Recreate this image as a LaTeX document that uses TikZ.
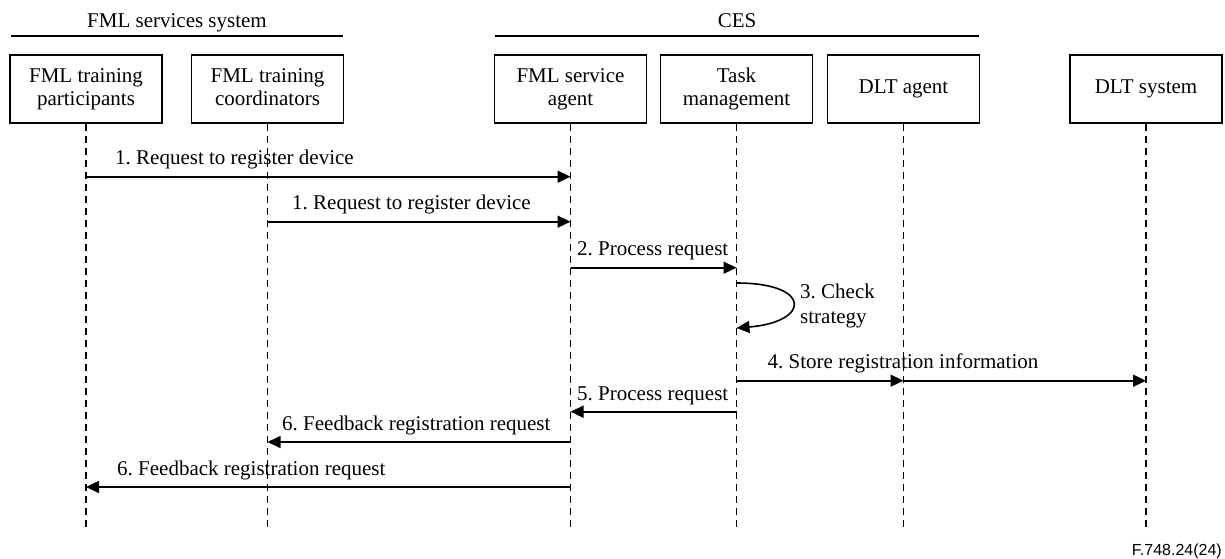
\documentclass[tikz,border=0pt]{standalone}
\usepackage{fontspec}
\setmainfont{Liberation Serif}
\newfontfamily\figsans{Liberation Sans}
\usetikzlibrary{arrows.meta}
\frenchspacing
\begin{document}
\begin{tikzpicture}[x=1pt,y=-1pt,
  font=\fontsize{21}{23}\selectfont,
  lifebox/.style={draw, line width=1.5pt, minimum width=152pt, minimum height=68pt,
                  align=center, inner sep=0pt},
  lifeline/.style={line width=1.4pt, dash pattern=on 7pt off 5pt},
  msg/.style={line width=1.6pt, -{Triangle[length=13pt,width=12pt]}},
  lbl/.style={anchor=base west, inner sep=0pt},
  grp/.style={line width=1.9pt}]
\useasboundingbox (0,0) rectangle (1225,558);

% group headings
\node[anchor=base, inner sep=0pt] (gfml) at (177,27) {FML services system};
\draw[grp] (11,36) -- (343,36);
\node[anchor=base, inner sep=0pt] (gces) at (737,27) {CES};
\draw[grp] (495,36) -- (979,36);

% participants
\node[lifebox] (p1) at (86,89)    {FML training\strut\\participants\strut};
\node[lifebox] (p2) at (267.5,89) {FML training\strut\\coordinators\strut};
\node[lifebox] (p3) at (570.5,89) {FML service\strut\\agent\strut};
\node[lifebox] (p4) at (736.5,89) {Task\strut\\management\strut};
\node[lifebox] (p5) at (903.5,89) {DLT agent\strut};
\node[lifebox] (p6) at (1146,89)  {DLT system\strut};

% lifelines
\foreach \p in {p1,p2,p3,p4,p5,p6}{
  \coordinate (\p end) at (\p.south |- 0,530);
  \draw[lifeline] (\p.south) -- (\p end);
}

% 1. registration requests
\draw[msg] (p1.south |- 0,176.7) -- (p3.south |- 0,176.7);
\node[lbl] (l1a) at (115,164.7) {1. Request to register device};
\draw[msg] (p2.south |- 0,221.7) -- (p3.south |- 0,221.7);
\node[lbl] (l1b) at (292,209.7) {1. Request to register device};

% 2. process request
\draw[msg] (p3.south |- 0,267.7) -- (p4.south |- 0,267.7);
\node[lbl] (l2) at (577,255.5) {2. Process request};

% 3. self check
\draw[msg] (p4.south |- 0,283) .. controls +(76,0) and +(74,-6) .. (p4.south |- 0,328);
\node[anchor=west, align=left, inner sep=0pt, font=\fontsize{21}{25}\selectfont]
  (l3) at (800,306) {3. Check\\strategy};

% 4. store registration information
\draw[msg] (p4.south |- 0,380.7) -- (p5.south |- 0,380.7);
\draw[msg] (p5.south |- 0,380.7) -- (p6.south |- 0,380.7);
\node[anchor=base, inner sep=0pt] (l4) at (903,368.5) {4. Store registration information};

% 5. process request
\draw[msg] (p4.south |- 0,411.7) -- (p3.south |- 0,411.7);
\node[lbl] (l5) at (577,400) {5. Process request};

% 6. feedback
\draw[msg] (p3.south |- 0,442) -- (p2.south |- 0,442);
\node[lbl] (l6a) at (282,430.5) {6. Feedback registration request};
\draw[msg] (p3.south |- 0,487) -- (p1.south |- 0,487);
\node[lbl] (l6b) at (117,475.5) {6. Feedback registration request};

% figure number
\node[anchor=base east, inner sep=0pt, font=\figsans\fontsize{16}{18}\selectfont]
  (fig) at (1222,555) {F.748.24(24)};
\end{tikzpicture}
\end{document}
